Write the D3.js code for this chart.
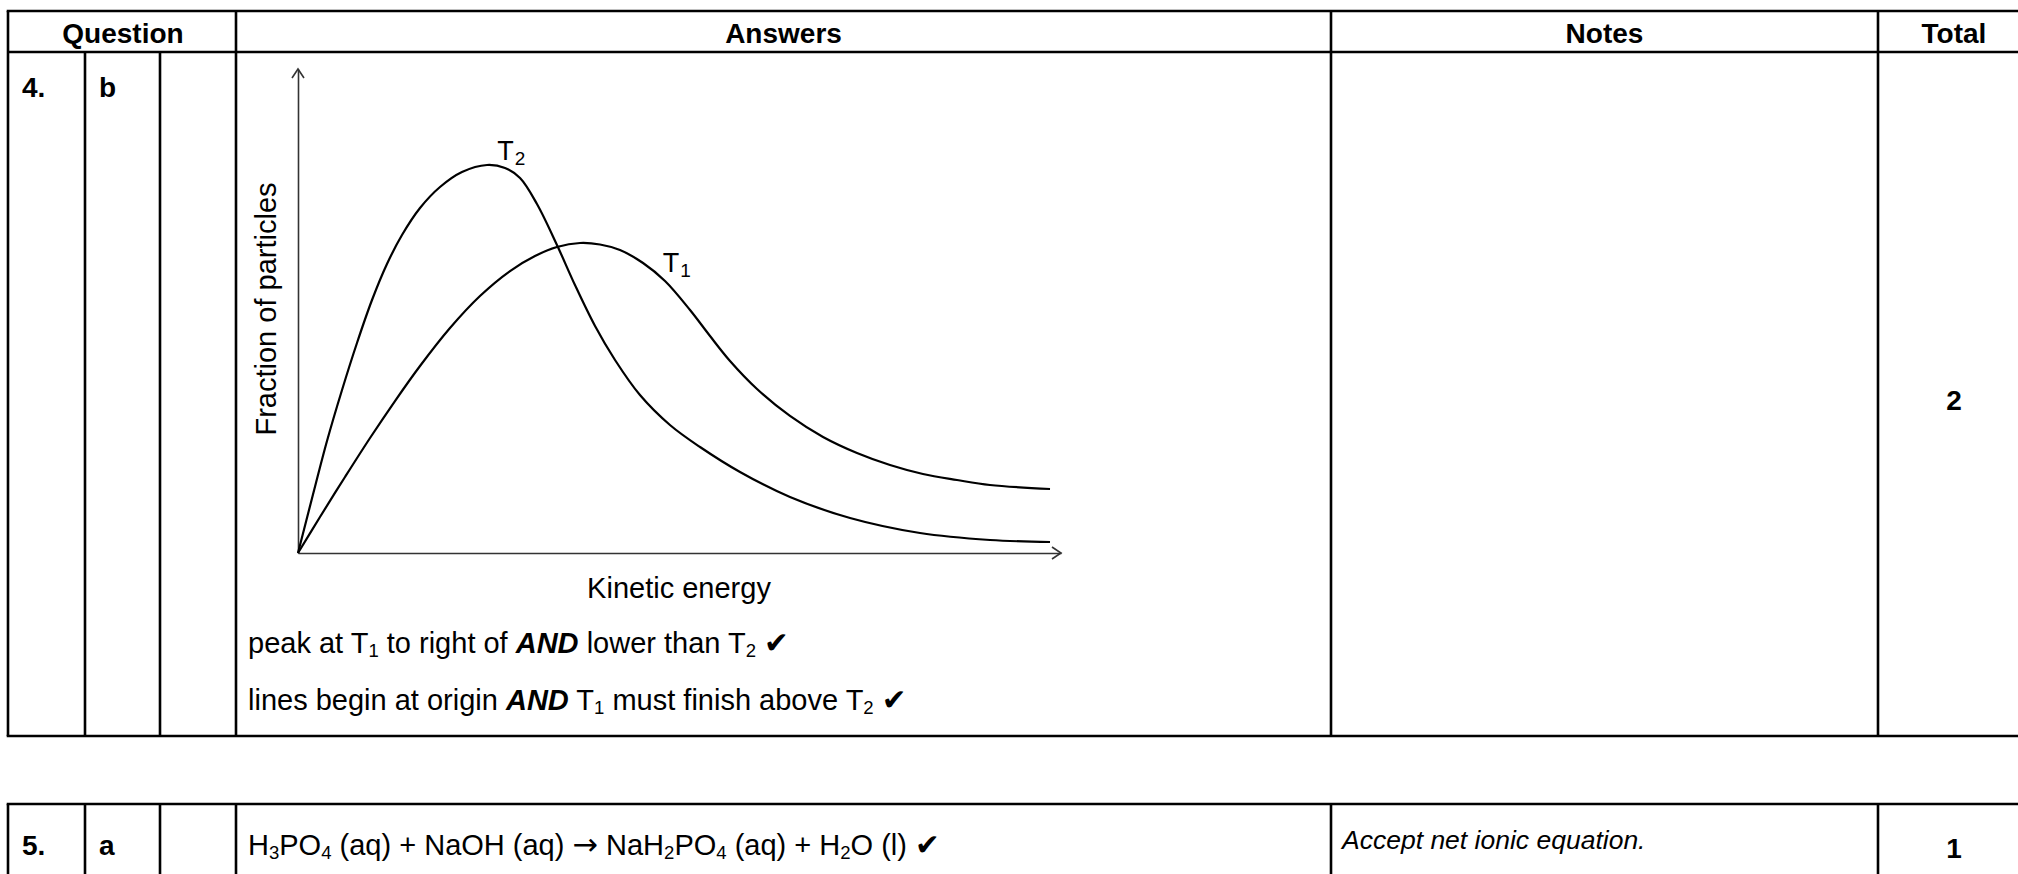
<!DOCTYPE html>
<html><head><meta charset="utf-8">
<script src="https://cdn.jsdelivr.net/npm/d3@7"></script>
<style>
html,body{margin:0;padding:0;background:#fff;}
svg{display:block;}
text{font-family:"Liberation Sans",Arial,Helvetica,sans-serif;fill:#000;}
</style></head><body>
<svg id="c" width="2018" height="874"></svg>
<script>
// ---------- data ----------
const seriesNames = ["T2", "T1"];
const t2Energy   = [0, 1.83, 3.80, 5.77, 7.73, 9.70, 11.66, 13.63, 15.99, 18.61, 21.49, 24.77, 27.13, 29.10, 31.32, 33.94, 36.30, 38.93, 41.55, 44.82, 48.75, 52.69, 57.93, 64.48, 72.35, 81.52, 90.69, 98.56];
const t2Fraction = [0, 11.26, 23.14, 33.68, 43.39, 52.27, 59.71, 65.70, 71.28, 75.62, 78.72, 80.17, 79.55, 77.48, 72.11, 63.64, 55.37, 46.90, 39.88, 32.64, 26.45, 21.90, 16.74, 11.57, 7.23, 4.13, 2.69, 2.27];
const t1Energy   = [0, 2.88, 6.16, 9.44, 12.71, 15.99, 19.92, 23.85, 27.79, 31.06, 33.94, 36.96, 39.58, 42.20, 45.22, 48.10, 51.38, 54.00, 56.62, 60.16, 64.48, 68.81, 73.26, 77.59, 81.91, 86.37, 90.69, 98.56];
const t1Fraction = [0, 7.44, 15.70, 23.76, 31.40, 38.64, 46.49, 53.10, 58.26, 61.36, 63.22, 64.05, 63.74, 62.60, 59.92, 56.20, 50.21, 44.83, 39.67, 33.88, 28.31, 23.97, 20.66, 18.18, 16.32, 15.08, 14.05, 13.22];
const labelEnergy   = [26.1, 47.8];
const labelFraction = [81.2, 58.1];
const axisTitles = ["Kinetic energy", "Fraction of particles"];

const headers = ["Question", "Answers", "Notes", "Total"];
const row4Cells = ["4.", "b", "2"];
const row5Cells = ["5.", "a", "1"];
const answer4 = [
  [["peak at T"],["1","sub"],[" to right of "],["AND","bi"],[" lower than T"],["2","sub"],[" "],["✔","chk"]],
  [["lines begin at origin "],["AND","bi"],[" T"],["1","sub"],[" must finish above T"],["2","sub"],[" "],["✔","chk"]]
];
const answer5 = [["H"],["3","sub"],["PO"],["4","sub"],[" (aq) + NaOH (aq) "],["→","arr"],[" NaH"],["2","sub"],["PO"],["4","sub"],[" (aq) + H"],["2","sub"],["O (l) "],["✔","chk"]];
const note5 = "Accept net ionic equation.";

// ---------- layout ----------
const svg = d3.select("#c");
svg.append("rect").attr("width",2018).attr("height",874).attr("fill","#fff");
const colX = [8, 85, 160, 236, 1331, 1878, 2030];
const LW = 2.6;
const g = svg.append("g").attr("stroke","#000").attr("stroke-width",LW).attr("fill","none");
function hline(x1,x2,y){ g.append("line").attr("x1",x1).attr("x2",x2).attr("y1",y).attr("y2",y); }
function vline(x,y1,y2){ g.append("line").attr("x1",x).attr("x2",x).attr("y1",y1).attr("y2",y2); }
// table 1
const t1Top=11, t1Head=52, t1Bot=736;
hline(colX[0]-LW/2, colX[6], t1Top); hline(colX[0], colX[6], t1Head); hline(colX[0]-LW/2, colX[6], t1Bot);
[0,3,4,5,6].forEach(i=>vline(colX[i], t1Top, t1Bot));
[1,2].forEach(i=>vline(colX[i], t1Head, t1Bot));
// table 2
const t2Top=804, t2Bot=900;
hline(colX[0]-LW/2, colX[6], t2Top);
[0,1,2,3,4,5,6].forEach(i=>vline(colX[i], t2Top, t2Bot));

// header texts
const headCenters = [123, (colX[3]+colX[4])/2, (colX[4]+colX[5])/2, (colX[5]+colX[6])/2];
headers.forEach((h,i)=>svg.append("text").attr("x",headCenters[i]).attr("y",43)
  .attr("text-anchor","middle").attr("font-weight","bold").attr("font-size",28).text(h));

// row cells
function bold(x,y,t,anchor){ svg.append("text").attr("x",x).attr("y",y).attr("font-weight","bold")
  .attr("font-size",28).attr("text-anchor",anchor||"start").text(t); }
bold(22,97,row4Cells[0]); bold(99,97,row4Cells[1]); bold(headCenters[3],410,row4Cells[2],"middle");
bold(22,855,row5Cells[0]); bold(99,855,row5Cells[1]); bold(headCenters[3],858,row5Cells[2],"middle");

function rich(x,y,segs,size){
  const t = svg.append("text").attr("x",x).attr("y",y).attr("font-size",size);
  let shifted=false;
  segs.forEach(s=>{
    const sp = t.append("tspan").text(s[0]);
    if(s[1]==="sub"){ sp.attr("font-size",size*0.64).attr("dy",shifted?0:4); shifted=true; }
    else {
      if(shifted){ sp.attr("dy",-4); shifted=false; }
      if(s[1]==="bi") sp.attr("font-weight","bold").attr("font-style","italic");
      if(s[1]==="chk") sp.attr("font-family","DejaVu Sans").attr("font-size",size*1.02);
      if(s[1]==="arr") sp.attr("font-family","DejaVu Sans").attr("font-size",size*1.05);
    }
  });
  return t;
}
rich(248,653,answer4[0],29);
rich(248,710,answer4[1],29);
rich(248,855,answer5,29);
svg.append("text").attr("x",1342).attr("y",849).attr("font-size",26.5).attr("font-style","italic").text(note5);

// ---------- chart ----------
const x = d3.scaleLinear().domain([0,100]).range([298,1061]);
const y = d3.scaleLinear().domain([0,100]).range([553,69]);
const axisColor = "#333";
const ax = svg.append("g").attr("transform",`translate(0,${y(0)})`)
  .call(d3.axisBottom(x).tickValues([]).tickSizeOuter(0));
ax.select(".domain").attr("stroke",axisColor).attr("stroke-width",1.6);
const ay = svg.append("g").attr("transform",`translate(${x(0)},0)`)
  .call(d3.axisLeft(y).tickValues([]).tickSizeOuter(0));
ay.select(".domain").attr("stroke",axisColor).attr("stroke-width",1.6);
// arrowheads
svg.append("path").attr("d",`M${x(100)-9},${y(0)-6}L${x(100)},${y(0)}L${x(100)-9},${y(0)+6}`)
  .attr("fill","none").attr("stroke",axisColor).attr("stroke-width",1.6);
svg.append("path").attr("d",`M${x(0)-6},${y(100)+9}L${x(0)},${y(100)}L${x(0)+6},${y(100)+9}`)
  .attr("fill","none").attr("stroke",axisColor).attr("stroke-width",1.6);

const line = d3.line().x(d=>x(d[0])).y(d=>y(d[1])).curve(d3.curveCatmullRom.alpha(0.5));
const series = [d3.zip(t2Energy,t2Fraction), d3.zip(t1Energy,t1Fraction)];
svg.append("g").selectAll("path").data(series).join("path")
  .attr("d",line).attr("fill","none").attr("stroke","#000").attr("stroke-width",2.2);

// series labels
seriesNames.forEach((n,i)=>{
  const t = svg.append("text").attr("x",x(labelEnergy[i])).attr("y",y(labelFraction[i])).attr("font-size",27);
  t.append("tspan").text(n[0]);
  t.append("tspan").attr("font-size",19).attr("dy",5).attr("dx",1).text(n.slice(1));
});

// axis titles
svg.append("text").attr("x",679).attr("y",598).attr("text-anchor","middle").attr("font-size",29).text(axisTitles[0]);
svg.append("text").attr("transform","translate(276,309) rotate(-90)").attr("text-anchor","middle").attr("font-size",29).text(axisTitles[1]);
</script>
</body></html>
